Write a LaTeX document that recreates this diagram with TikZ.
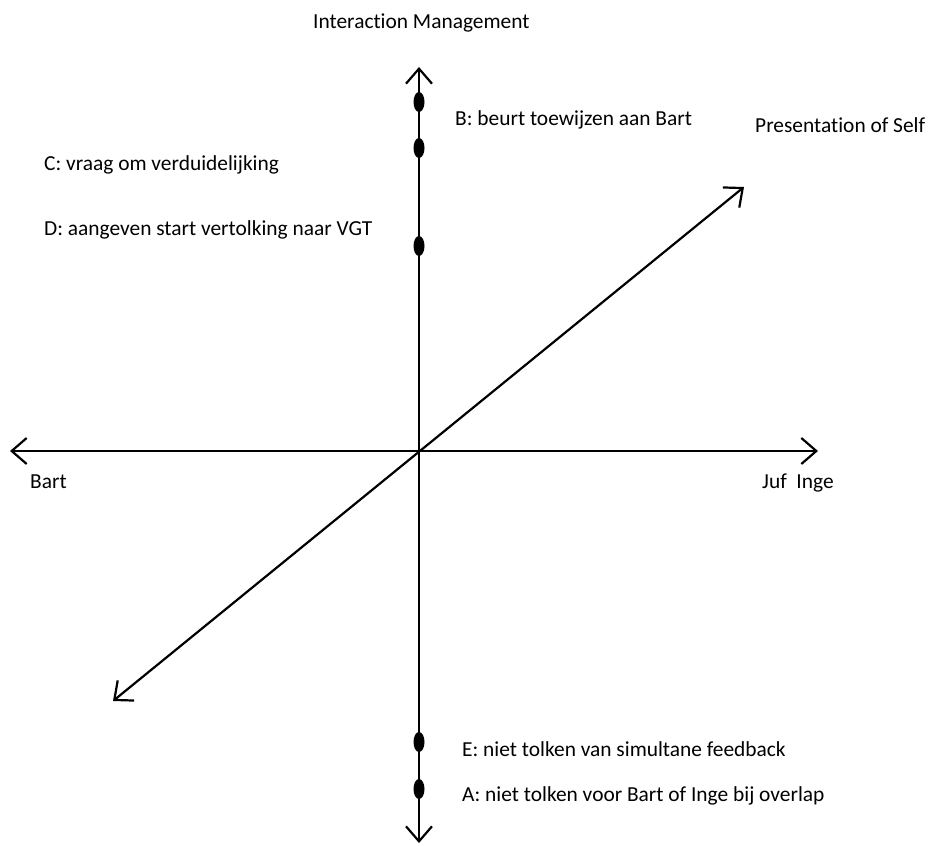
\documentclass[tikz,border=0pt]{standalone}
\usepackage{fontspec}
\setmainfont{Carlito}[Ligatures=NoCommon]
\usetikzlibrary{
  arrows.meta,
  shapes.geometric,
  positioning
}
\tikzset{
  axisline/.style={
    {Straight Barb[length=15pt, width=26pt]}-{Straight Barb[length=15pt, width=26pt]},
    line width=2.2pt, black
  },
  dotmark/.style={
    draw=none, fill=black, ellipse, inner sep=0pt,
    minimum width=11pt, minimum height=20pt
  },
  lbl/.style={
    anchor=base west, inner sep=0pt,
    font=\fontsize{21.4}{25}\selectfont
  }
}

\begin{document}
\begin{tikzpicture}[x=1pt, y=-1pt]
  \useasboundingbox (0,0) rectangle (930,846);
  % axis ends
  \coordinate (west) at (10,451);
  \coordinate (east) at (818,451);
  \coordinate (north) at (419,67);
  \coordinate (south) at (419,843);
  \coordinate (sw) at (113,701);
  \coordinate (ne) at (744,187);
  \draw[axisline] (west) -- (east);
  \draw[axisline] (south) -- (north);
  \draw[axisline] (sw) -- (ne);
  % points on the vertical axis
  \node[dotmark] (dotB) at (419,102) {};
  \node[dotmark] (dotC) at (419,148) {};
  \node[dotmark] (dotD) at (419,246) {};
  \node[dotmark] (dotE) at (419,742) {};
  \node[dotmark] (dotA) at (419,789) {};
  % axis names
  \node[lbl] (imLbl) at (313,28) {Interaction Management};
  \node[lbl] (psLbl) at (755,132) {Presentation of Self};
  \node[lbl] (bartLbl) at (30,488) {Bart};
  \node[lbl] (ingeLbl) at (762,488) {Juf\ \ Inge};
  % point descriptions
  \node[lbl] (txtB) at (455,125) {B: beurt toewijzen aan Bart};
  \node[lbl] (txtC) at (44,170) {C: vraag om verduidelijking};
  \node[lbl] (txtD) at (44,235) {D: aangeven start vertolking naar VGT};
  \node[lbl] (txtE) at (462,756) {E: niet tolken van simultane feedback};
  \node[lbl] (txtA) at (462,801) {A: niet tolken voor Bart of Inge bij overlap};
\end{tikzpicture}
\end{document}
